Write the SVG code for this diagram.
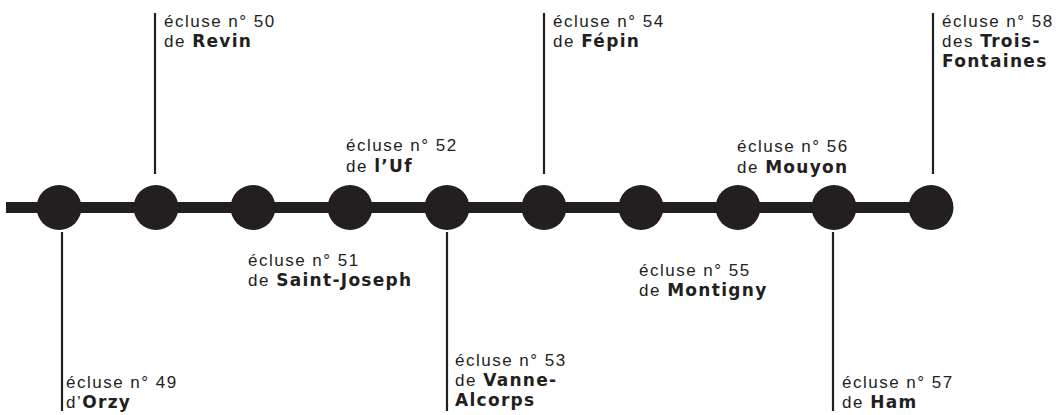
<svg xmlns="http://www.w3.org/2000/svg" width="1059" height="415" viewBox="0 0 1059 415">
<style>
.t{font-family:"Liberation Sans",Arial,sans-serif;font-size:17px;letter-spacing:1.5px;fill:#231f20}
.b{font-family:"DejaVu Sans","Liberation Sans",sans-serif;font-weight:bold;font-size:17px;letter-spacing:1.3px}
.lk{fill:#231f20}
.tk{stroke:#231f20;stroke-width:2.2;fill:none}
</style>
<rect width="1059" height="415" fill="#ffffff"/>
<g id="connectors">
<line x1="6" y1="207.5" x2="931" y2="207.5" stroke="#231f20" stroke-width="11"/>
<line class="tk" x1="62" y1="232" x2="62" y2="411"/>
<line class="tk" x1="155" y1="13" x2="155" y2="174"/>
<line class="tk" x1="447" y1="232" x2="447" y2="411"/>
<line class="tk" x1="544" y1="13" x2="544" y2="174"/>
<line class="tk" x1="833" y1="232" x2="833" y2="411"/>
<line class="tk" x1="933" y1="13" x2="933" y2="174"/>
</g>
<g id="n49"><circle class="lk" cx="59" cy="207.5" r="22.5"/>
<text class="t" x="66" y="388">écluse n° 49</text><text class="t" x="66" y="408">d’<tspan class="b">Orzy</tspan></text></g>
<g id="n50"><circle class="lk" cx="156" cy="207.5" r="22.5"/>
<text class="t" x="164" y="27">écluse n° 50</text><text class="t" x="164" y="47">de <tspan class="b">Revin</tspan></text></g>
<g id="n51"><circle class="lk" cx="253" cy="207.5" r="22.5"/>
<text class="t" x="248" y="266">écluse n° 51</text><text class="t" x="248" y="286">de <tspan class="b">Saint-Joseph</tspan></text></g>
<g id="n52"><circle class="lk" cx="350" cy="207.5" r="22.5"/>
<text class="t" x="346" y="151">écluse n° 52</text><text class="t" x="346" y="172">de <tspan class="b">l’Uf</tspan></text></g>
<g id="n53"><circle class="lk" cx="447" cy="207.5" r="22.5"/>
<text class="t" x="455" y="366">écluse n° 53</text><text class="t" x="455" y="386">de <tspan class="b">Vanne-</tspan></text><text class="t" x="455" y="406"><tspan class="b">Alcorps</tspan></text></g>
<g id="n54"><circle class="lk" cx="544" cy="207.5" r="22.5"/>
<text class="t" x="553" y="27">écluse n° 54</text><text class="t" x="553" y="47">de <tspan class="b">Fépin</tspan></text></g>
<g id="n55"><circle class="lk" cx="641" cy="207.5" r="22.5"/>
<text class="t" x="639" y="276">écluse n° 55</text><text class="t" x="639" y="296">de <tspan class="b">Montigny</tspan></text></g>
<g id="n56"><circle class="lk" cx="738" cy="207.5" r="22.5"/>
<text class="t" x="737" y="152">écluse n° 56</text><text class="t" x="737" y="173">de <tspan class="b">Mouyon</tspan></text></g>
<g id="n57"><circle class="lk" cx="834" cy="207.5" r="22.5"/>
<text class="t" x="842" y="388">écluse n° 57</text><text class="t" x="842" y="408">de <tspan class="b">Ham</tspan></text></g>
<g id="n58"><circle class="lk" cx="931" cy="207.5" r="22.5"/>
<text class="t" x="942" y="27">écluse n° 58</text><text class="t" x="942" y="47">des <tspan class="b">Trois-</tspan></text><text class="t" x="942" y="67"><tspan class="b">Fontaines</tspan></text></g>
</svg>
